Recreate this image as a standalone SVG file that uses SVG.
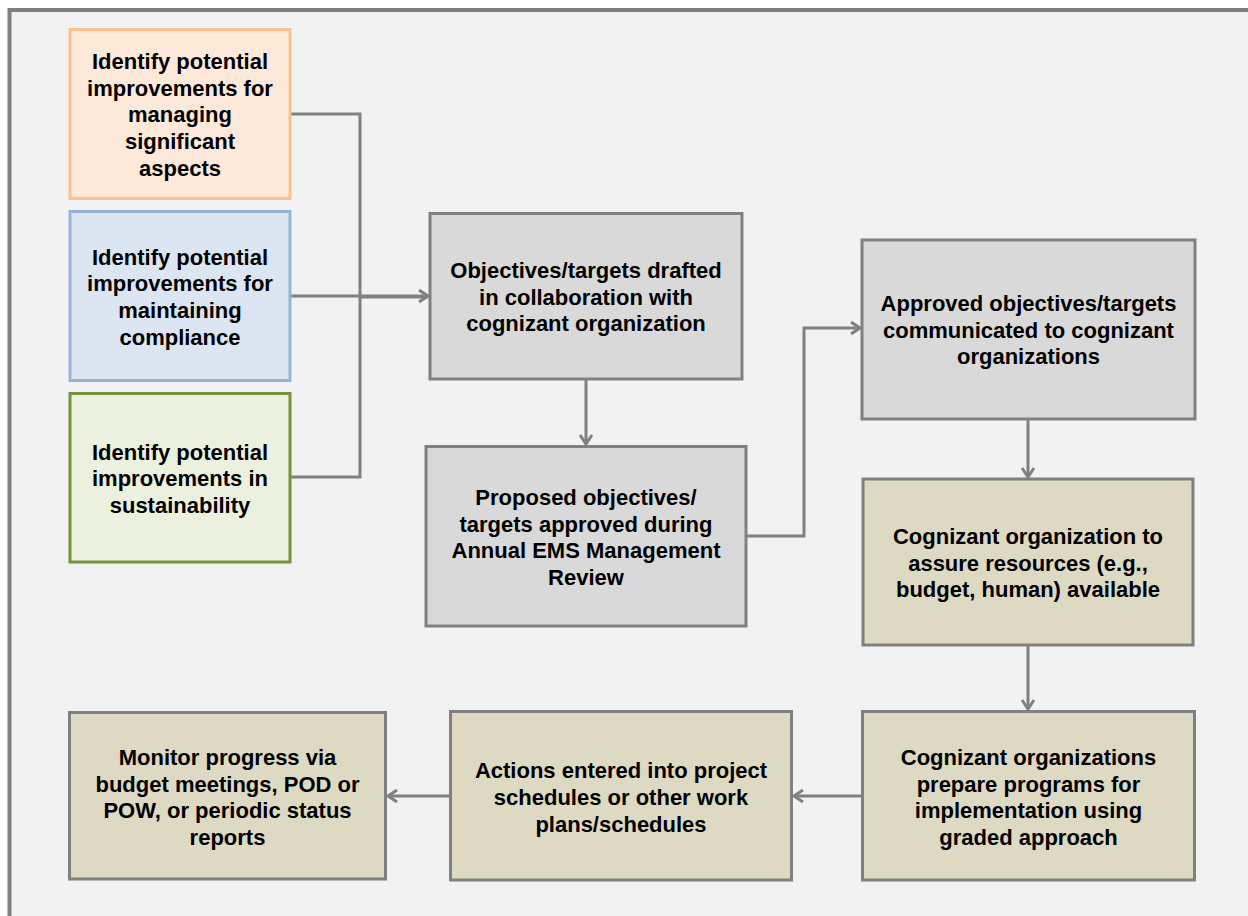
<svg xmlns="http://www.w3.org/2000/svg" width="1248" height="916" viewBox="0 0 1248 916">
  <defs>
    <style>
      .box { stroke: #808080; stroke-width: 3; }
      .gray { fill: #d9d9d9; }
      .tan { fill: #ddd9c3; }
      .txt { font-family: "Liberation Sans", Arial, Helvetica, sans-serif; font-weight: bold; font-size: 22px; fill: #000000; text-anchor: middle; }
      .conn { fill: none; stroke: #808080; stroke-width: 3; }
    </style>
    <marker id="arrow" markerUnits="userSpaceOnUse" markerWidth="16" markerHeight="16" viewBox="-12 -8 14 16" refX="0" refY="0" orient="auto">
      <path d="M -9 -6 L 0 0 L -9 6" fill="none" stroke="#808080" stroke-width="3"/>
    </marker>
  </defs>
  <rect x="0" y="0" width="1248" height="916" fill="#ffffff"/>
  <rect x="9.5" y="10" width="1260" height="940" fill="#f2f2f2" stroke="#808080" stroke-width="4"/>

  <g id="connectors">
    <path class="conn" d="M290 114 H360 V296"/>
    <path class="conn" d="M290 477 H360 V296"/>
    <path class="conn" d="M290 296 H428" marker-end="url(#arrow)"/>
    <path class="conn" d="M360 297 H428"/>
    <path class="conn" d="M586 379 V444" marker-end="url(#arrow)"/>
    <path class="conn" d="M746 536 H804 V328 H860" marker-end="url(#arrow)"/>
    <path class="conn" d="M1028 419 V477" marker-end="url(#arrow)"/>
    <path class="conn" d="M1028 645 V709" marker-end="url(#arrow)"/>
    <path class="conn" d="M862 796 H794" marker-end="url(#arrow)"/>
    <path class="conn" d="M451 796 H388" marker-end="url(#arrow)"/>
  </g>

  <g id="node-managing">
    <rect x="70" y="29.5" width="220" height="169" fill="#fde9d9" stroke="#fac090" stroke-width="3"/>
    <text class="txt" x="180" y="69">Identify potential</text>
    <text class="txt" x="180" y="95.7">improvements for</text>
    <text class="txt" x="180" y="122.3">managing</text>
    <text class="txt" x="180" y="149">significant</text>
    <text class="txt" x="180" y="175.7">aspects</text>
  </g>

  <g id="node-compliance">
    <rect x="70" y="211.5" width="220" height="169" fill="#dce6f2" stroke="#95b3d7" stroke-width="3"/>
    <text class="txt" x="180" y="264.5">Identify potential</text>
    <text class="txt" x="180" y="291.2">improvements for</text>
    <text class="txt" x="180" y="317.8">maintaining</text>
    <text class="txt" x="180" y="344.5">compliance</text>
  </g>

  <g id="node-sustainability">
    <rect x="70" y="393.5" width="220" height="168.5" fill="#ebf1de" stroke="#77933c" stroke-width="3"/>
    <text class="txt" x="180" y="459.5">Identify potential</text>
    <text class="txt" x="180" y="486.2">improvements in</text>
    <text class="txt" x="180" y="512.8">sustainability</text>
  </g>

  <g id="node-drafted">
    <rect class="box gray" x="430" y="213.5" width="312" height="165.5"/>
    <text class="txt" x="586" y="278">Objectives/targets drafted</text>
    <text class="txt" x="586" y="304.7">in collaboration with</text>
    <text class="txt" x="586" y="331.3">cognizant organization</text>
  </g>

  <g id="node-proposed">
    <rect class="box gray" x="426" y="446.5" width="320" height="179.5"/>
    <text class="txt" x="586" y="505">Proposed objectives/</text>
    <text class="txt" x="586" y="531.7">targets approved during</text>
    <text class="txt" x="586" y="558.3">Annual EMS Management</text>
    <text class="txt" x="586" y="585">Review</text>
  </g>

  <g id="node-approved">
    <rect class="box gray" x="862" y="240" width="333" height="179"/>
    <text class="txt" x="1028.5" y="311">Approved objectives/targets</text>
    <text class="txt" x="1028.5" y="337.7">communicated to cognizant</text>
    <text class="txt" x="1028.5" y="364.3">organizations</text>
  </g>

  <g id="node-resources">
    <rect class="box tan" x="863" y="479" width="330" height="166"/>
    <text class="txt" x="1028" y="544">Cognizant organization to</text>
    <text class="txt" x="1028" y="570.7">assure resources (e.g.,</text>
    <text class="txt" x="1028" y="597.3">budget, human) available</text>
  </g>

  <g id="node-programs">
    <rect class="box tan" x="862.5" y="711.5" width="332" height="168.5"/>
    <text class="txt" x="1028.5" y="765">Cognizant organizations</text>
    <text class="txt" x="1028.5" y="791.7">prepare programs for</text>
    <text class="txt" x="1028.5" y="818.3">implementation using</text>
    <text class="txt" x="1028.5" y="845">graded approach</text>
  </g>

  <g id="node-actions">
    <rect class="box tan" x="450.5" y="711.5" width="341" height="168.5"/>
    <text class="txt" x="621" y="778.3">Actions entered into project</text>
    <text class="txt" x="621" y="805">schedules or other work</text>
    <text class="txt" x="621" y="831.7">plans/schedules</text>
  </g>

  <g id="node-monitor">
    <rect class="box tan" x="69.5" y="712.5" width="316" height="166.5"/>
    <text class="txt" x="227.5" y="765">Monitor progress via</text>
    <text class="txt" x="227.5" y="791.7">budget meetings, POD or</text>
    <text class="txt" x="227.5" y="818.3">POW, or periodic status</text>
    <text class="txt" x="227.5" y="845">reports</text>
  </g>
</svg>
